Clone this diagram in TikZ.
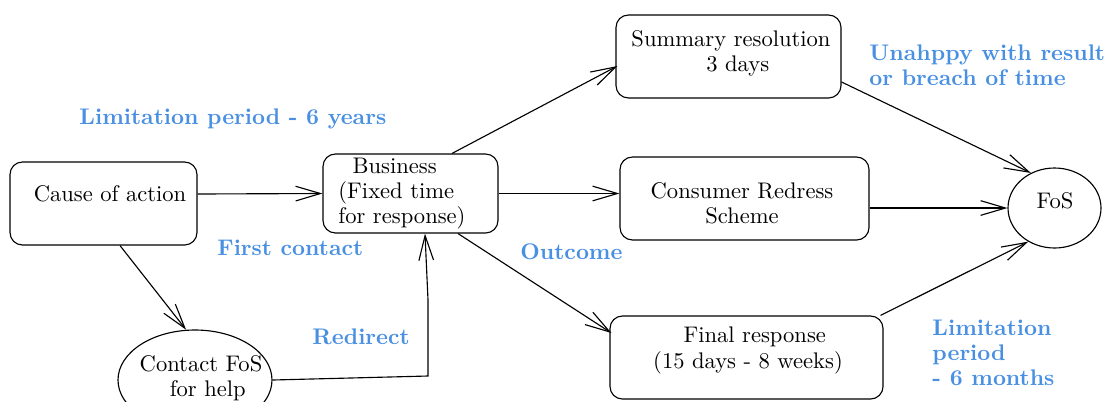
\documentclass[tikz,border=0pt]{standalone}
\usetikzlibrary{arrows.meta,calc,shapes.geometric}
\definecolor{lblue}{RGB}{74,144,226}
\def\pxu{0.443}
\begin{document}
\begin{tikzpicture}[x=\pxu pt,y=-\pxu pt,
  box/.style={draw,rounded corners=5.5pt,line width=0.5pt,inner sep=0pt},
  oval/.style={draw,ellipse,line width=0.5pt,inner sep=0pt},
  txt/.style={inner sep=0pt,align=center,font=\fontsize{10}{11.1}\selectfont},
  lbl/.style={inner sep=0pt,align=left,text=lblue,font=\fontsize{10}{11.1}\selectfont\bfseries,anchor=west},
  arr/.style={line width=0.5pt,-{Straight Barb[length=11pt,width=6.5pt]}}]
\useasboundingbox (0,0) rectangle (1107,401);
% boxes
\node[box,minimum width=187*\pxu pt,minimum height=83*\pxu pt] (cause) at (103.5,203.5) {};
\node[txt] (causet) at (110,194) {Cause of action};
\node[box,minimum width=175*\pxu pt,minimum height=79*\pxu pt] (business) at (410.5,193.5) {};
\node[txt,align=left,anchor=west] (businesst) at (338,194) {\hspace{6.3pt}Business\\(Fixed time\\for response)};
\node[box,minimum width=225*\pxu pt,minimum height=83*\pxu pt] (summary) at (728.5,56.5) {};
\node[txt] (summaryt) at (731,53) {Summary resolution\\\hspace{6pt}3 days};
\node[box,minimum width=249*\pxu pt,minimum height=83*\pxu pt] (consumer) at (744.5,198.5) {};
\node[txt] (consumert) at (742,203.5) {Consumer Redress\\Scheme};
\node[box,minimum width=273*\pxu pt,minimum height=83*\pxu pt] (final) at (746.5,357.5) {};
\node[txt] (finalt) at (748,350.5) {\hspace{6pt}Final response\\(15 days - 8 weeks)};
\node[oval,minimum width=93*\pxu pt,minimum height=80*\pxu pt] (fos) at (1054.5,208) {};
\node[txt] (fost) at (1055,201) {FoS};
\node[oval,minimum width=154*\pxu pt,minimum height=100*\pxu pt] (contact) at (195,380) {};
\node[txt] (contactt) at (201,378) {Contact FoS\\\hspace{6pt}for help};
% labels
\node[lbl] (lim6y) at (79,119) {Limitation period - 6 years};
\node[lbl] (first) at (217,248) {First contact};
\node[lbl] (redir) at (312,337) {Redirect};
\node[lbl] (outc) at (520,252) {Outcome};
\node[lbl] (unhappy) at (869,65.5) {Unahppy with result\\or breach of time};
\node[lbl] (lim6m) at (932,353) {Limitation\\period\\- 6 months};
% connectors
\coordinate (rc1) at (428,376);
\coordinate (rc2) at (428,300);
\draw[arr] (cause.east |- causet) -- (business.west);
\draw[arr] ($(cause.south)+(16.5,0)$) -- (contact.100);
\draw[arr] (contact.east) -- (rc1) -- (rc2) -- ($(business.south)+(14.5,0)$);
\draw[arr] ($(business.north)+(41.5,0)$) -- ($(summary.west)+(2,9.5)$);
\draw[arr] (business.east) -- (consumer.west |- business.east);
\draw[arr] ($(business.south)+(47.5,0)$) -- ($(final.west)+(2,-24.5)$);
\draw[arr] ($(summary.east)+(0,25.5)$) -- (fos.124);
\draw[arr] (consumer.east |- fos.west) -- (fos.west);
\draw[arr] ($(final.north east)+(-3,0)$) -- (fos.-128);
\end{tikzpicture}
\end{document}
